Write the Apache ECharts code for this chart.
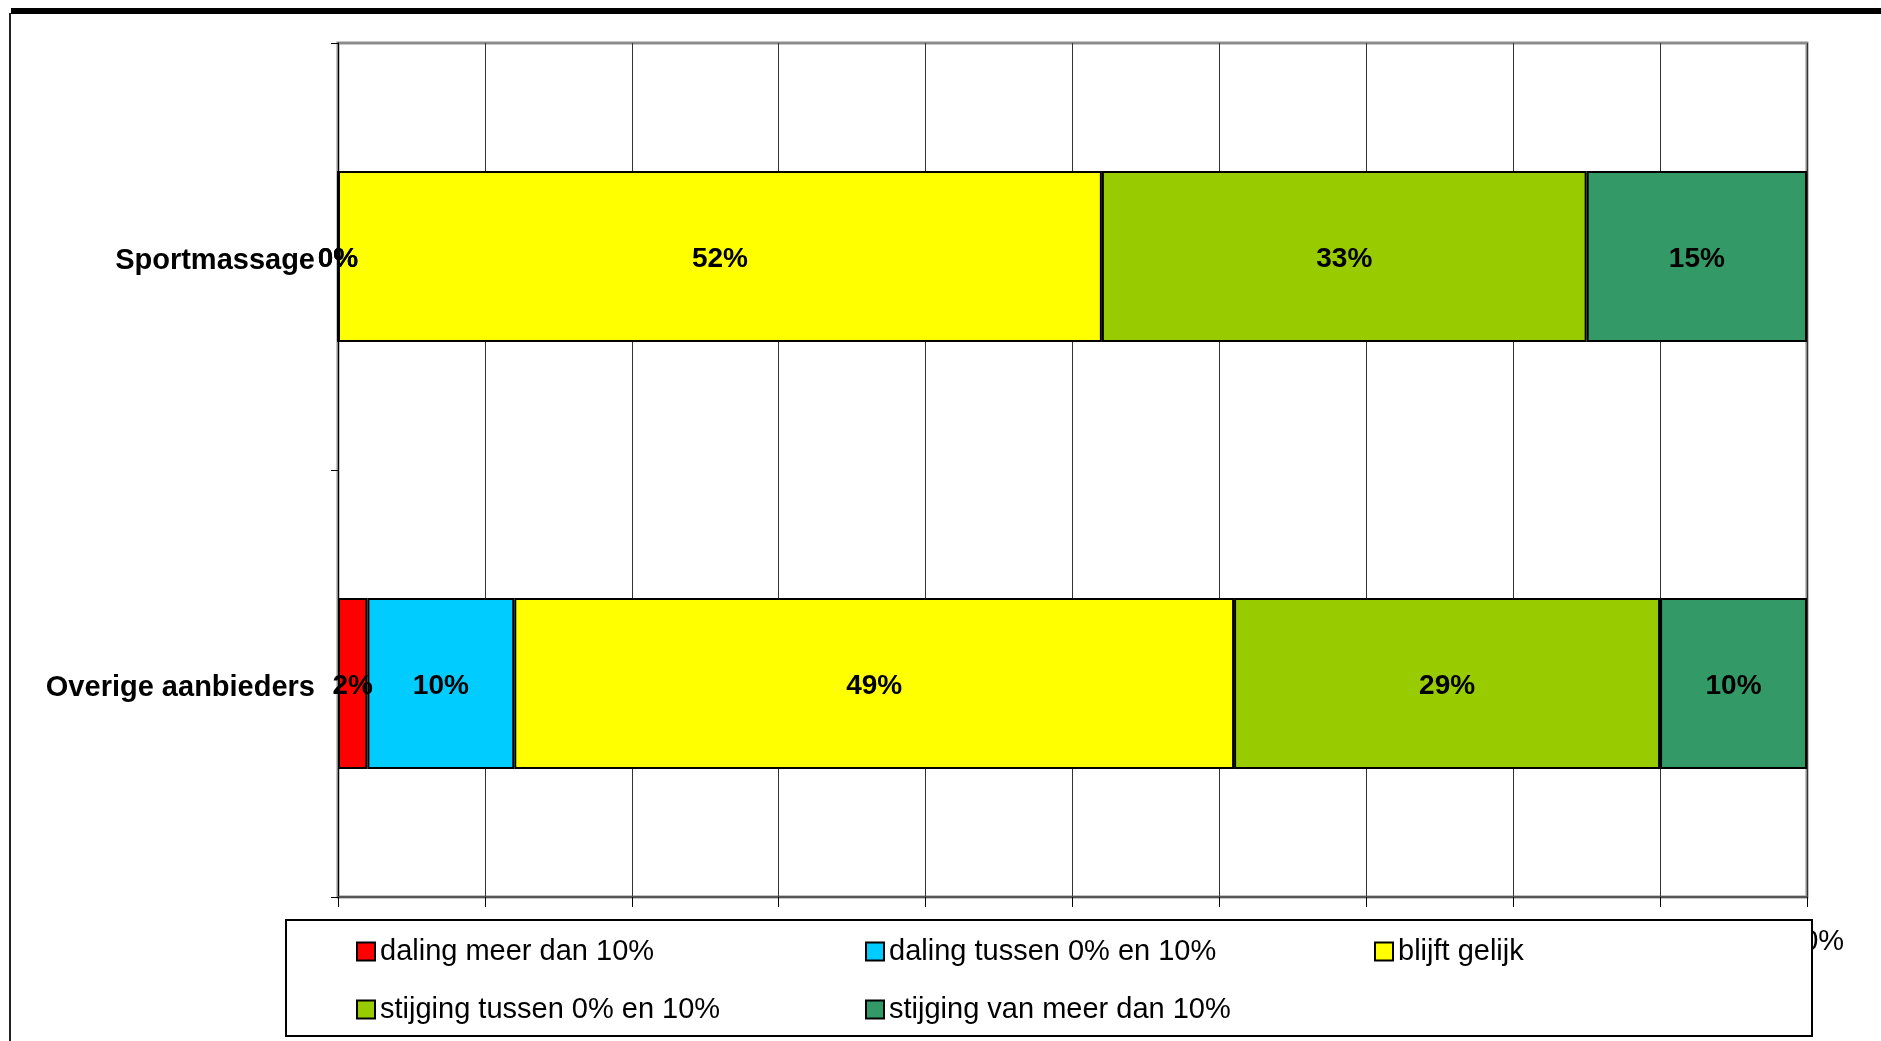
<!DOCTYPE html>
<html>
<head>
<meta charset="utf-8">
<script src="https://cdn.jsdelivr.net/npm/echarts@6/dist/echarts.min.js"></script>
<style>
html,body{margin:0;padding:0;background:#fff;}
#chart{width:1881px;height:1041px;}
</style>
</head>
<body>
<div id="chart"></div>
<script>
// Data
var categories = ['Sportmassage', 'Overige aanbieders'];
var seriesNames = ['daling meer dan 10%', 'daling tussen 0% en 10%', 'blijft gelijk', 'stijging tussen 0% en 10%', 'stijging van meer dan 10%'];
var dalingMeer = [0, 2];
var dalingTussen = [0, 10];
var blijftGelijk = [52, 49];
var stijgingTussen = [33, 29];
var stijgingMeer = [15, 10];
var xTicks = [0, 10, 20, 30, 40, 50, 60, 70, 80, 90, 100];

var colors = ['#FF0000', '#00CCFF', '#FFFF00', '#99CC00', '#339966'];
var values = [dalingMeer, dalingTussen, blijftGelijk, stijgingTussen, stijgingMeer];
var FONT = '"Liberation Sans", Arial, sans-serif';

var series = seriesNames.map(function (name, i) {
  return {
    name: name,
    type: 'bar',
    stack: 'total',
    barWidth: '40%',
    data: values[i],
    itemStyle: { color: colors[i], borderColor: '#000', borderWidth: 2 },
    label: {
      show: true,
      position: 'inside',
      offset: [0, 3],
      formatter: '{c}%',
      color: '#000',
      fontFamily: FONT,
      fontWeight: 'bold',
      fontSize: 28
    },
    emphasis: { disabled: true },
    animation: false
  };
});

// legend positions (one legend component per item)
var legendPos = [
  { left: 356, top: 937 },
  { left: 865, top: 937 },
  { left: 1374, top: 937 },
  { left: 356, top: 995 },
  { left: 865, top: 995 }
];
var legends = seriesNames.map(function (name, i) {
  return {
    data: [name],
    left: legendPos[i].left,
    top: legendPos[i].top,
    padding: 0,
    itemWidth: 18,
    itemHeight: 18,
    itemGap: 0,
    icon: 'rect',
    z: 30,
    itemStyle: { borderColor: '#000', borderWidth: 2 },
    textStyle: { fontFamily: FONT, fontSize: 29, color: '#000', padding: [0, 0, 0, 0] },
    selectedMode: false
  };
});

var chart = echarts.init(document.getElementById('chart'), null, { renderer: 'canvas' });
chart.setOption({
  animation: false,
  backgroundColor: '#fff',
  grid: {
    left: 338, right: 74, top: 43, bottom: 144,
    show: true, borderColor: '#8c8c8c', borderWidth: 3, backgroundColor: 'transparent'
  },
  xAxis: {
    type: 'value',
    min: 0, max: 100, interval: 10,
    axisLine: { show: true, lineStyle: { color: '#555', width: 2 } },
    axisTick: { show: true, length: 10, lineStyle: { color: '#000', width: 1 } },
    axisLabel: { formatter: '{value}%', fontFamily: FONT, fontSize: 29, color: '#000', margin: 30 },
    splitLine: { show: true, lineStyle: { color: '#333', width: 1 } }
  },
  yAxis: {
    type: 'category',
    data: categories,
    inverse: true,
    axisLine: { show: true, lineStyle: { color: '#000', width: 1 } },
    axisTick: { show: true, length: 7, inside: false, lineStyle: { color: '#000' } },
    axisLabel: {
      formatter: '{a|{value}}',
      color: '#000', margin: 23,
      rich: { a: { fontFamily: FONT, fontSize: 29, fontWeight: 'bold', color: '#000', padding: [8, 0, 0, 0] } }
    },
    splitLine: { show: false }
  },
  legend: legends,
  graphic: [
    { type: 'rect', shape: { x: 11, y: 8, width: 1870, height: 6 }, style: { fill: '#000' }, z: 40 },
    { type: 'rect', shape: { x: 9, y: 13, width: 2, height: 1028 }, style: { fill: '#222' }, z: 40 },
    { type: 'rect', shape: { x: 286, y: 920, width: 1526, height: 116 }, style: { fill: '#fff', stroke: '#000', lineWidth: 2 }, z: 20 }
  ],
  series: series
});
</script>
</body>
</html>
